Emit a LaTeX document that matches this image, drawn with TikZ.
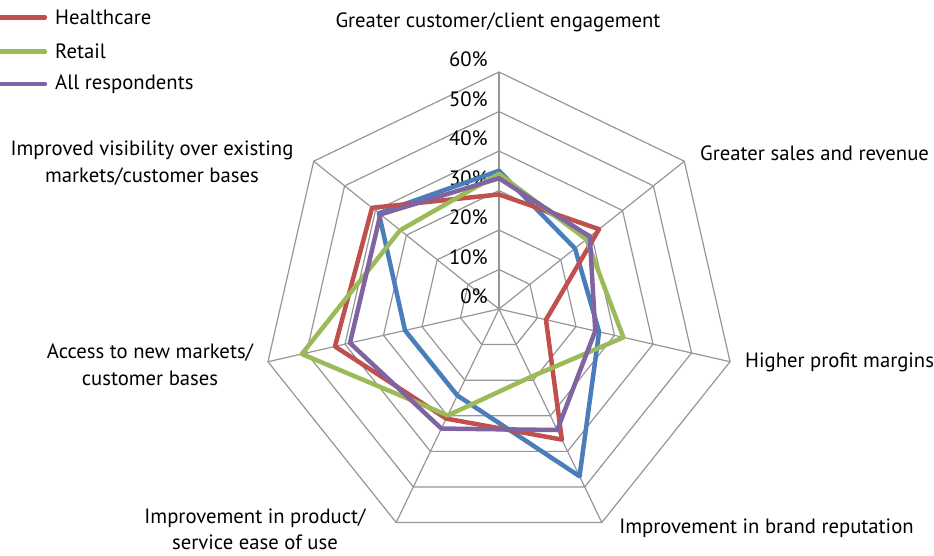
\documentclass[tikz,border=0pt]{standalone}
\usepackage{fontspec}
\setmainfont{PT Sans}
\usetikzlibrary{positioning}

\definecolor{hcred}{RGB}{192,80,77}
\definecolor{rtgreen}{RGB}{155,187,89}
\definecolor{allpurple}{RGB}{128,100,162}
\definecolor{otherblue}{RGB}{74,126,187}
\definecolor{gridgray}{RGB}{150,150,150}

\tikzset{
  gridline/.style={gridgray, line width=1.2pt},
  series/.style={line width=4.5pt, line join=round},
  keyline/.style={line width=4.5pt, line cap=round},
  lbl/.style={font=\fontsize{20.7}{27}\selectfont, inner sep=0pt},
}

\begin{document}
\begin{tikzpicture}[x=1pt,y=1pt]
\useasboundingbox (-499,-246) rectangle (435,309);
% legend
\coordinate (hcA) at (-510,291.7);
\coordinate (hcB) at (-454,291.7);
\coordinate (rtA) at (-510,257.3);
\coordinate (rtB) at (-454,257.3);
\coordinate (allA) at (-510,225);
\coordinate (allB) at (-454,225);
\draw[keyline, hcred] (hcA) -- (hcB);
\draw[keyline, rtgreen] (rtA) -- (rtB);
\draw[keyline, allpurple] (allA) -- (allB);
\node[lbl, right=10pt of hcB] (hcText) {Healthcare};
\node[lbl, right=10pt of rtB] (rtText) {Retail};
\node[lbl, right=10pt of allB] (allText) {All respondents};
% web
\begin{scope}[x=3.95pt,y=3.95pt]
\foreach \r in {10,20,...,60}
  \draw[gridline] (90:\r) \foreach \a in {1,...,6} { -- (90-\a*360/7:\r) } -- cycle;
\foreach \a in {0,...,6}
  \draw[gridline] (0,0) -- (90-\a*360/7:60);
\foreach \r in {0,10,...,60}
  \node[lbl, anchor=east] at (-2.8,\r+3.2) {\r\%};
% series
\draw[series, otherblue] (90:35) -- (38.57:24.6) -- (-12.86:26) -- (-64.29:47)
  -- (-115.71:24.3) -- (-167.14:24.4) -- (141.43:38.9) -- cycle;
\draw[series, hcred] (90:29) -- (38.57:32.4) -- (-12.86:12.2) -- (-64.29:36.7)
  -- (-115.71:30.8) -- (-167.14:42.6) -- (141.43:41.1) -- cycle;
\draw[series, rtgreen] (90:34.2) -- (38.57:28.3) -- (-12.86:32.3) -- (-64.29:19)
  -- (-115.71:29.9) -- (-167.14:51.2) -- (141.43:32) -- cycle;
\draw[series, allpurple] (90:33.1) -- (38.57:29.4) -- (-12.86:25) -- (-64.29:34)
  -- (-115.71:33.6) -- (-167.14:38.7) -- (141.43:38.4) -- cycle;
\end{scope}
% axis labels
\node[lbl] (engage) at (-1,287) {Greater customer/client engagement};
\node[lbl, anchor=west] (sales) at (201,156) {Greater sales and revenue};
\node[lbl, anchor=west] (profit) at (246,-53) {Higher profit margins};
\node[lbl] (brand) at (267.5,-219) {Improvement in brand reputation};
\node[lbl, align=center, font=\fontsize{20.7}{26}\selectfont] (ease) at (-244,-220) {Improvement in product/\\service ease of use};
\node[lbl, align=center] (access) at (-349,-56) {Access to new markets/\\customer bases};
\node[lbl, align=center] (visib) at (-347,146) {Improved visibility over existing\\markets/customer bases};
\end{tikzpicture}
\end{document}
